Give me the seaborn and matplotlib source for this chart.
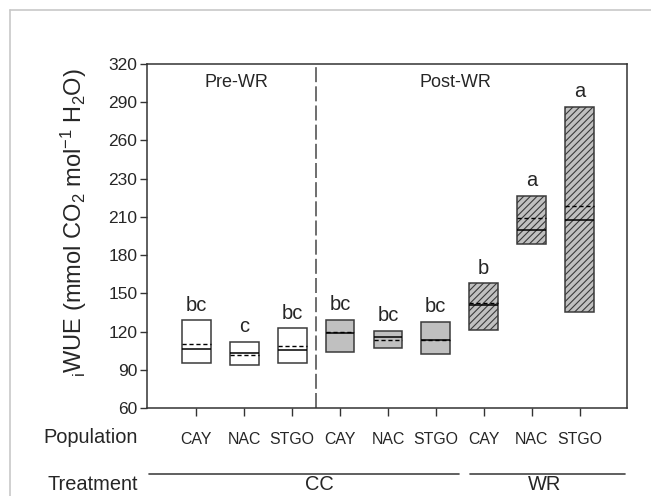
import numpy as np
import pandas as pd
import matplotlib
matplotlib.use("Agg")
import matplotlib.pyplot as plt
from matplotlib.lines import Line2D
import seaborn as sns

# ---------------- data ----------------
populations = ["CAY", "NAC", "STGO", "CAY", "NAC", "STGO", "CAY", "NAC", "STGO"]
period = ["Pre-WR"] * 3 + ["Post-WR"] * 6
treatment = ["CC"] * 6 + ["WR"] * 3
q1 = [95.6, 93.5, 95.6, 104.2, 106.9, 102.6, 121.5, 188.5, 135.2]
q3 = [128.8, 112.0, 122.6, 129.3, 120.4, 127.5, 157.9, 221.1, 286.3]
medians = [106.5, 102.9, 105.5, 118.9, 115.7, 113.1, 141.1, 199.9, 207.9]
means = [110.0, 101.4, 108.4, 119.3, 113.6, 113.6, 142.2, 209.5, 215.9]
letters = ["bc", "c", "bc", "bc", "bc", "bc", "b", "a", "a"]
ytick_values = [60, 90, 120, 150, 180, 210, 230, 260, 290, 320]

keys = [f"{p}|{t}|{s}" for p, t, s in zip(period, treatment, populations)]
df = pd.DataFrame({"key": keys, "q1": q1, "q3": q3})
df["height"] = df["q3"] - df["q1"]

# ---------------- style ----------------
sns.set_style("ticks")
plt.rcParams["font.family"] = ["Liberation Sans", "DejaVu Sans"]
plt.rcParams["mathtext.fontset"] = "custom"
plt.rcParams["mathtext.rm"] = "Liberation Sans"
plt.rcParams["mathtext.it"] = "Liberation Sans"
plt.rcParams["mathtext.default"] = "regular"
plt.rcParams["hatch.linewidth"] = 0.8

fig = plt.figure(figsize=(6.51, 4.96), dpi=100)
ax = fig.add_axes([147 / 651, 88 / 496, 479.5 / 651, 344 / 496])

sns.barplot(data=df, x="key", y="height", order=keys, bottom=df["q1"].values,
            color="white", saturation=1, width=0.6, errorbar=None, ax=ax, zorder=2)

# uneven tick labels are equally spaced in the original -> piecewise scale
tick_idx = np.arange(len(ytick_values), dtype=float)
tv = np.array(ytick_values, dtype=float)


def fwd(v):
    return np.interp(v, tv, tick_idx, left=-1e9, right=1e9)


def inv(i):
    return np.interp(i, tick_idx, tv)


ax.set_yscale("function", functions=(fwd, inv))
ax.set_ylim(60, 320)
ax.set_yticks(ytick_values)
ax.set_yticklabels([str(v) for v in ytick_values])
ax.set_xlim(-1.03, 8.98)

face = {"Pre-WR": "white", "Post-WR": "#c0c0c0"}
for i, patch in enumerate(ax.patches):
    patch.set_facecolor(face[period[i]])
    patch.set_edgecolor("#3a3a3a")
    patch.set_linewidth(1.1)
    if treatment[i] == "WR":
        patch.set_hatch("/////")

xpos = np.arange(len(keys))
ax.hlines(medians, xpos - 0.3, xpos + 0.3, colors="black", linewidth=1.1, zorder=3)
ax.hlines(means, xpos - 0.3, xpos + 0.3, colors="black", linewidth=1.0,
          linestyles=(0, (3, 2)), zorder=3)

for i, lt in enumerate(letters):
    ax.annotate(lt, (xpos[i], q3[i]), xytext=(0, 7), textcoords="offset points",
                ha="center", va="baseline", fontsize=14.5)

ax.axvline(2.5, color="#555555", linewidth=1.2, linestyle=(0, (9, 2.5)), zorder=1)
ax.text(0.187, 0.934, "Pre-WR", transform=ax.transAxes, ha="center",
        va="baseline", fontsize=13)
ax.text(0.644, 0.934, "Post-WR", transform=ax.transAxes, ha="center",
        va="baseline", fontsize=13)

for s in ax.spines.values():
    s.set_visible(True)
    s.set_color("#333333")
    s.set_linewidth(1.1)

ax.set_xticks(xpos)
ax.set_xticklabels(populations, fontsize=11.4)
ax.tick_params(axis="x", length=6, width=1, color="#333333", pad=11)
ax.tick_params(axis="y", length=5, width=1, color="#333333", labelsize=12.5, pad=2)
ax.set_xlabel("")
ax.set_ylabel(r"$_{i}$WUE (mmol CO$_{2}$ mol$^{-1}$ H$_{2}$O)", fontsize=17)
ax.yaxis.set_label_coords(-0.122, 0.54)

# lower annotation rows
fig.text(138 / 651, 1 - 443 / 496, "Population", ha="right", va="baseline", fontsize=14.4)
fig.text(138 / 651, 1 - 490 / 496, "Treatment", ha="right", va="baseline", fontsize=14.4)
fig.text(319 / 651, 1 - 490 / 496, "CC", ha="center", va="baseline", fontsize=14.4)
fig.text(545 / 651, 1 - 490 / 496, "WR", ha="center", va="baseline", fontsize=14.4)
yl = 1 - 474 / 496
fig.add_artist(Line2D([149 / 651, 459 / 651], [yl, yl], color="#444444", lw=1.2))
fig.add_artist(Line2D([470 / 651, 624.5 / 651], [yl, yl], color="#444444", lw=1.2))

# light frame of the original figure
fx, fy = 9.5 / 651, 1 - 9.5 / 496
fig.add_artist(Line2D([fx, 1], [fy, fy], color="#c8c8c8", lw=1.2))
fig.add_artist(Line2D([fx, fx], [0, fy], color="#c8c8c8", lw=1.2))

fig.savefig("out.png", dpi=100)
